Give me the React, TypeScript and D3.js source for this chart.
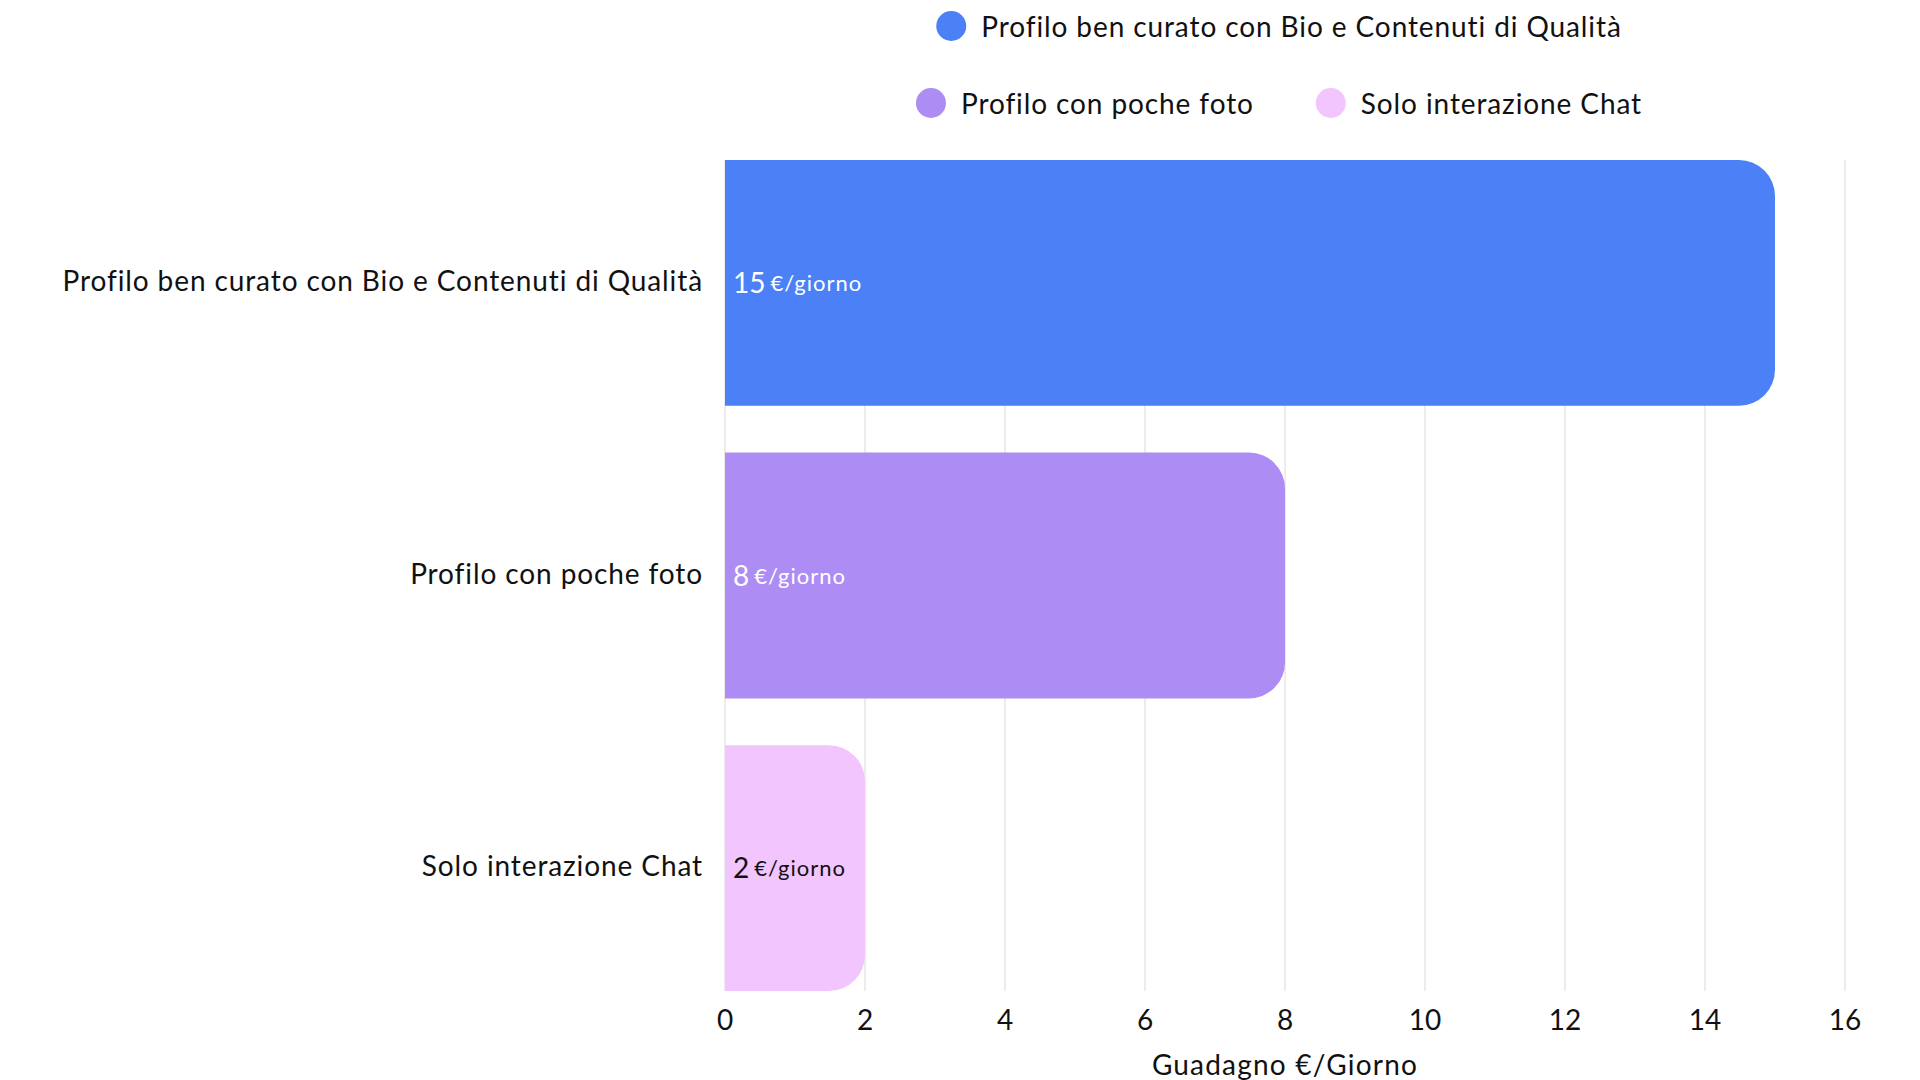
import React, { useEffect, useRef } from "react";
import * as d3 from "d3";

const categories = [
  "Profilo ben curato con Bio e Contenuti di Qualità",
  "Profilo con poche foto",
  "Solo interazione Chat",
];
const values = [15, 8, 2];
const colors = ["#4b80f7", "#ad8cf4", "#f2c5fe"];
const labelColors = ["#ffffff", "#ffffff", "#111111"];
const ticks = [0, 2, 4, 6, 8, 10, 12, 14, 16];
const unit = "€/giorno";
const axisTitle = "Guadagno €/Giorno";
// legend rows: indexes into categories
const legendRows = [[0], [1, 2]];

const font = "Lato, 'Noto Sans', sans-serif";

const App = () => {
  const svgRef = useRef<SVGSVGElement>(null);
  const width = 1920;
  const height = 1080;
  const margin = { top: 160, right: 75, bottom: 89, left: 725 };

  useEffect(() => {
    document.body.style.margin = "0";
    const svg = d3.select(svgRef.current);
    svg.selectAll("*").remove();

    const x = d3
      .scaleLinear()
      .domain([0, 16])
      .range([margin.left, width - margin.right]);
    const y = d3
      .scaleBand()
      .domain(categories)
      .range([margin.top, height - margin.bottom])
      .paddingInner(0.16)
      .paddingOuter(0);

    // grid
    svg
      .append("g")
      .selectAll("line")
      .data(ticks)
      .enter()
      .append("line")
      .attr("x1", (d) => x(d))
      .attr("x2", (d) => x(d))
      .attr("y1", margin.top)
      .attr("y2", height - margin.bottom)
      .attr("stroke", "#e2e2e2")
      .attr("stroke-width", 1.3);

    // bars with rounded right end
    const r = 36;
    const barPath = (v: number, cat: string) => {
      const x0 = x(0);
      const x1 = x(v);
      const y0 = y(cat) as number;
      const y1 = y0 + y.bandwidth();
      const rr = Math.min(r, (x1 - x0) / 2);
      return `M${x0},${y0}H${x1 - rr}A${rr},${rr} 0 0 1 ${x1},${y0 + rr}V${y1 - rr}A${rr},${rr} 0 0 1 ${x1 - rr},${y1}H${x0}Z`;
    };

    svg
      .append("g")
      .selectAll("path")
      .data(values)
      .enter()
      .append("path")
      .attr("d", (d, i) => barPath(d, categories[i]))
      .attr("fill", (d, i) => colors[i]);

    // value labels
    const vl = svg
      .append("g")
      .selectAll("text")
      .data(values)
      .enter()
      .append("text")
      .attr("x", x(0) + 8)
      .attr("y", (d, i) => (y(categories[i]) as number) + y.bandwidth() / 2 - 1)
      .attr("dominant-baseline", "central")
      .attr("font-family", font)
      .attr("fill", (d, i) => labelColors[i]);
    vl.append("tspan").attr("font-size", 28).text((d) => d);
    vl.append("tspan")
      .attr("font-size", 22)
      .attr("dx", 5)
      .attr("letter-spacing", 1)
      .text(unit);

    // category labels
    svg
      .append("g")
      .selectAll("text")
      .data(categories)
      .enter()
      .append("text")
      .attr("x", x(0) - 22)
      .attr("y", (d) => (y(d) as number) + y.bandwidth() / 2 - 3)
      .attr("text-anchor", "end")
      .attr("dominant-baseline", "central")
      .attr("font-family", font)
      .attr("font-size", 28)
      .attr("letter-spacing", 0.9)
      .attr("fill", "#111")
      .text((d) => d);

    // tick labels
    svg
      .append("g")
      .selectAll("text")
      .data(ticks)
      .enter()
      .append("text")
      .attr("x", (d) => x(d))
      .attr("y", height - margin.bottom + 28)
      .attr("text-anchor", "middle")
      .attr("dominant-baseline", "central")
      .attr("font-family", font)
      .attr("font-size", 28)
      .attr("fill", "#111")
      .text((d) => d);

    // axis title
    svg
      .append("text")
      .attr("x", (x(0) + x(16)) / 2)
      .attr("y", height - margin.bottom + 73)
      .attr("text-anchor", "middle")
      .attr("dominant-baseline", "central")
      .attr("font-family", font)
      .attr("font-size", 28)
      .attr("letter-spacing", 1.2)
      .attr("fill", "#111")
      .text(axisTitle);

    // legend, each row centred over the plot
    const cx = (x(0) + x(16)) / 2 - 6;
    const rowY = [26, 103];
    const dotR = 15;
    const dotGap = 15;
    const itemGap = 62;
    legendRows.forEach((row, ri) => {
      const g = svg.append("g");
      const items = row.map((ci) => {
        const item = g.append("g");
        item.append("circle").attr("r", dotR).attr("fill", colors[ci]);
        const t = item
          .append("text")
          .attr("x", dotR + dotGap)
          .attr("dominant-baseline", "central")
          .attr("font-family", font)
          .attr("font-size", 28)
          .attr("letter-spacing", 0.9)
          .attr("fill", "#111")
          .text(categories[ci]);
        const w = (t.node() as SVGTextElement).getComputedTextLength();
        return { item, w: dotR * 2 + dotGap + w };
      });
      const total =
        d3.sum(items, (d) => d.w) + itemGap * (items.length - 1);
      let pos = cx - total / 2;
      items.forEach((it) => {
        it.item.attr("transform", `translate(${pos + dotR},${rowY[ri]})`);
        pos += it.w + itemGap;
      });
    });
  }, []);

  return (
    <svg
      ref={svgRef}
      width={width}
      height={height}
      style={{ display: "block", background: "#fff" }}
    />
  );
};

export default App;
